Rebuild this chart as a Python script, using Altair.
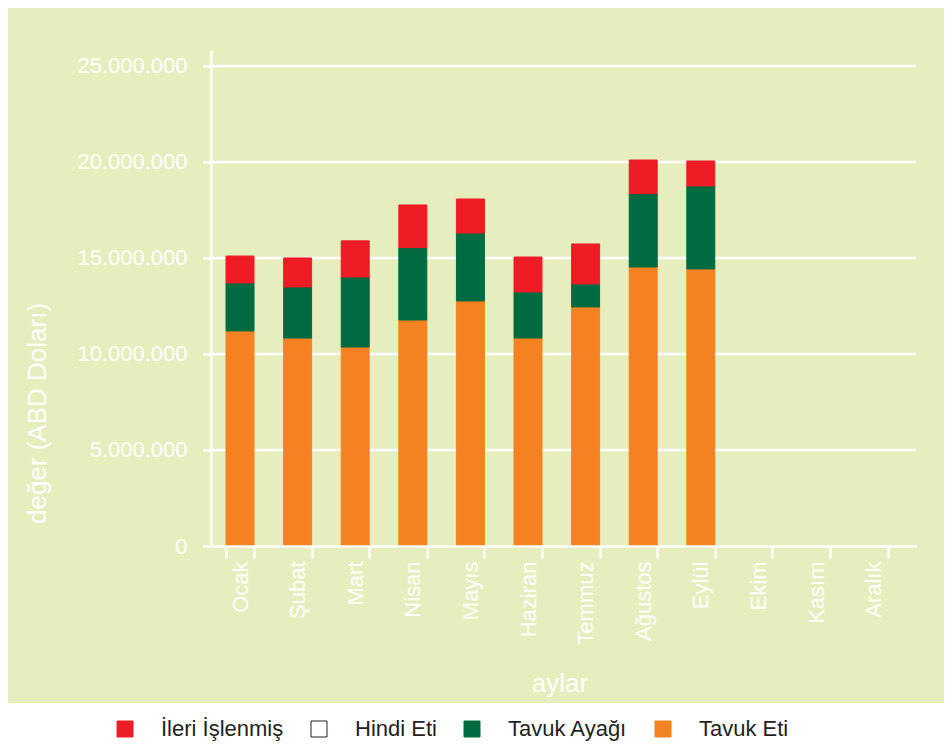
import altair as alt
import pandas as pd

months = ["Ocak", "Şubat", "Mart", "Nisan", "Mayıs", "Haziran",
          "Temmuz", "Ağustos", "Eylül", "Ekim", "Kasım", "Aralık"]
data_months = months[:9]
tavuk_eti = [11200000, 10830000, 10360000, 11770000, 12760000, 10830000, 12450000, 14530000, 14430000]
tavuk_ayagi = [2500000, 2660000, 3650000, 3770000, 3540000, 2400000, 1200000, 3820000, 4320000]
hindi_eti = [0, 0, 0, 0, 0, 0, 0, 0, 0]
ileri_islenmis = [1400000, 1510000, 1880000, 2220000, 1770000, 1820000, 2080000, 1750000, 1300000]

series_names = ["İleri İşlenmiş", "Hindi Eti", "Tavuk Ayağı", "Tavuk Eti"]
fill_colors = ["#EE1C25", "#FFFFFF", "#006A41", "#F58220"]
stroke_colors = ["#EE1C25", "#231F20", "#006A41", "#F58220"]
stack_order = {"Tavuk Eti": 0, "Tavuk Ayağı": 1, "Hindi Eti": 2, "İleri İşlenmiş": 3}
y_ticks = [0, 5000000, 10000000, 15000000, 20000000, 25000000]
grid_vals = y_ticks[1:]

rows = []
for name, vals in [("Tavuk Eti", tavuk_eti), ("Tavuk Ayağı", tavuk_ayagi),
                   ("Hindi Eti", hindi_eti), ("İleri İşlenmiş", ileri_islenmis)]:
    for m, v in zip(data_months, vals):
        rows.append({"ay": m, "seri": name, "deger": v, "sira": stack_order[name]})
df = pd.DataFrame(rows)

FONT = "Liberation Sans, Arial, sans-serif"
W, H = 705, 496
ymax = 25830000

yscale = alt.Scale(domain=[0, ymax], nice=False, zero=True)

legend = alt.Legend(title=None, orient="none", legendX=-97, legendY=668,
                    direction="horizontal", symbolType="square", symbolSize=256,
                    symbolStrokeWidth=1, labelFont=FONT, labelFontSize=22,
                    labelColor="#231F20", labelOffset=25, columnPadding=24,
                    padding=0)

bg = alt.Chart(pd.DataFrame({"k": [0]})).mark_rect(color="#E6EEBE").encode(
    x=alt.value(-203), x2=alt.value(733), y=alt.value(-42), y2=alt.value(653)
)

grid = alt.Chart(pd.DataFrame({"g": grid_vals})).mark_rule(
    color="white", strokeWidth=2.5
).encode(
    y=alt.Y("g:Q", scale=yscale),
    x=alt.value(0), x2=alt.value(W),
)

bars = alt.Chart(df).transform_filter("datum.deger > 0").mark_bar().encode(
    x=alt.X("ay:N", sort=months,
            scale=alt.Scale(domain=months, paddingInner=0.514, paddingOuter=0.377, align=0.346),
            axis=alt.Axis(title="aylar", labelAngle=270, tickBand="extent",
                          tickSize=12, tickWidth=2.5, tickColor="white",
                          domainColor="white", domainWidth=2.5,
                          labelColor="white", labelFont=FONT, labelFontSize=22,
                          labelPadding=3, titleColor="white", titleFont=FONT,
                          titleFontSize=26, titleFontWeight="normal",
                          titleX=348.5, titleY=145, titleAlign="center",
                          titleBaseline="alphabetic", grid=False, zindex=1)),
    y=alt.Y("deger:Q", stack="zero", scale=yscale,
            axis=alt.Axis(title="değer (ABD Doları)", values=y_ticks,
                          labelExpr="replace(format(datum.value, ','), regexp(',', 'g'), '.')",
                          tickSize=8, tickWidth=2.5, tickColor="white",
                          domainColor="white", domainWidth=2.5,
                          labelColor="white", labelFont=FONT, labelFontSize=22,
                          labelPadding=16, titleColor="white", titleFont=FONT,
                          titleFontSize=26, titleFontWeight="normal",
                          titleAngle=270, titleX=-174, titleY=363,
                          titleAlign="center", titleBaseline="middle",
                          grid=False, zindex=1)),
    color=alt.Color("seri:N", scale=alt.Scale(domain=series_names, range=fill_colors),
                    legend=legend),
    stroke=alt.Stroke("seri:N", scale=alt.Scale(domain=series_names, range=stroke_colors),
                      legend=legend),
    order=alt.Order("sira:Q", sort="ascending"),
)

chart = alt.layer(bg, grid, bars).properties(
    width=W, height=H,
    padding={"left": 203, "top": 42, "right": 28, "bottom": 199},
    autosize=alt.AutoSizeParams(type="none"),
    background="white",
).configure_view(stroke=None)

chart.save("out.html", embed_options={"renderer": "svg", "actions": False})
